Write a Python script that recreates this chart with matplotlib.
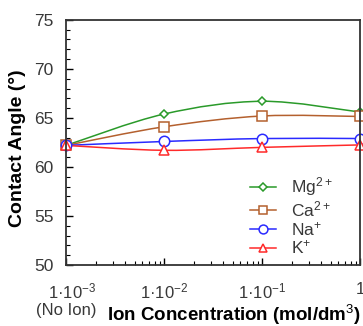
import numpy as np
import matplotlib.pyplot as plt
from matplotlib.path import Path
from matplotlib.patches import PathPatch
from matplotlib.ticker import MultipleLocator, LogLocator, NullFormatter

plt.rcParams['font.family'] = ['Liberation Sans', 'DejaVu Sans']
plt.rcParams['mathtext.fontset'] = 'custom'
plt.rcParams['mathtext.rm'] = 'Liberation Sans'
plt.rcParams['mathtext.it'] = 'Liberation Sans:italic'
plt.rcParams['mathtext.bf'] = 'Liberation Sans:bold'

######################## Data ############################
conc = [1e-3, 1e-2, 1e-1, 1.0]
mg = [62.2, 65.4, 66.7, 65.6]
ca = [62.2, 64.1, 65.2, 65.15]
na = [62.2, 62.6, 62.9, 62.9]
k = [62.2, 61.7, 62.0, 62.25]

labels = ['Mg$^{2+}$', 'Ca$^{2+}$', 'Na$^{+}$', 'K$^{+}$']
colors = ['#2a9a2a', '#b4602e', '#2a2aff', '#ff2a2a']
markers = ['D', 's', 'o', '^']
msizes = [4.5, 7.5, 7.5, 7]
xtick_labels = ['1·10$^{-3}$\n(No Ion)', '1·10$^{-2}$', '1·10$^{-1}$', '1']

TXT = '#383838'


def smooth_path(x, y, t=1/6.):
    # excel-like smoothed line: cubic bezier in log-x space
    lx = np.log10(x)
    y = np.asarray(y, float)
    n = len(lx)
    verts = [(x[0], y[0])]
    codes = [Path.MOVETO]
    for i in range(n - 1):
        i0, i3 = max(i - 1, 0), min(i + 2, n - 1)
        c1 = (lx[i] + (lx[i + 1] - lx[i0]) * t, y[i] + (y[i + 1] - y[i0]) * t)
        c2 = (lx[i + 1] - (lx[i3] - lx[i]) * t, y[i + 1] - (y[i3] - y[i]) * t)
        verts += [(10 ** c1[0], c1[1]), (10 ** c2[0], c2[1]), (x[i + 1], y[i + 1])]
        codes += [Path.CURVE4] * 3
    return Path(verts, codes)


fig = plt.figure(figsize=(3.63, 3.26), dpi=100)
ax = fig.add_axes([0.182, 0.187, 0.810, 0.752])
ax.set_xscale('log')

for ys, lab, c, m, ms in zip([mg, ca, na, k], labels, colors, markers, msizes):
    ax.add_patch(PathPatch(smooth_path(conc, ys), fill=False, edgecolor=c, lw=1.1))
    ax.plot(conc, ys, ls='none', marker=m, ms=ms, mfc='white', mec=c, mew=1.1, clip_on=False)
    ax.plot([], [], color=c, lw=1.1, marker=m, ms=ms * 0.85, mfc='white', mec=c, mew=1.1, label=lab)

ax.set_xlim(1e-3, 1)
ax.set_ylim(50, 75)
ax.yaxis.set_major_locator(MultipleLocator(5))
ax.yaxis.set_minor_locator(MultipleLocator(1))
ax.set_xticks(conc)
ax.set_xticklabels(xtick_labels, fontsize=12, color=TXT, linespacing=1.15)
ax.get_xticklabels()[0].set_multialignment('right')
ax.xaxis.set_minor_locator(LogLocator(base=10, subs=np.arange(2, 10)))
ax.xaxis.set_minor_formatter(NullFormatter())
ax.tick_params(axis='y', labelsize=12.5, labelcolor=TXT, direction='in', length=5, width=1, pad=9)
ax.tick_params(axis='x', direction='in', length=5, width=1, pad=12)
ax.tick_params(which='minor', direction='in', length=3, width=0.8)

for s in ax.spines.values():
    s.set_color('#333333')
    s.set_linewidth(1.3)

ax.set_ylabel('Contact Angle (°)', fontsize=14, fontweight='bold')
ax.yaxis.set_label_coords(-0.135, 0.478)
ax.set_xlabel('Ion Concentration (mol/dm$^{3}$)', fontsize=13.5, fontweight='bold')
ax.xaxis.set_label_coords(0.571, -0.205)
ax.xaxis.label.set_va('center')

ax.legend(loc='lower right', bbox_to_anchor=(0.96, -0.03), frameon=False, fontsize=12.5,
          handlelength=1.5, handletextpad=0.85, labelspacing=0.05, labelcolor=TXT)

fig.savefig('out.png', dpi=100)
